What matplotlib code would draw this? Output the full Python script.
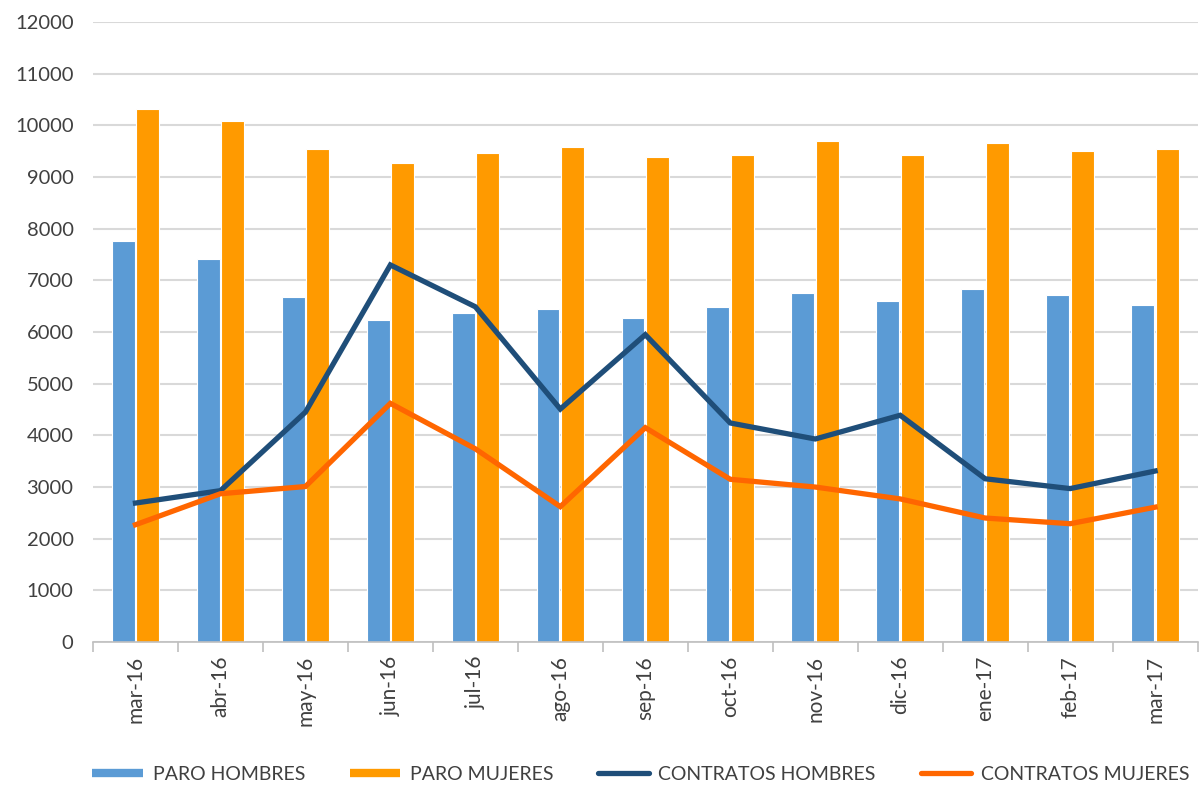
import matplotlib.pyplot as plt
from matplotlib.lines import Line2D
import numpy as np

meses = ["mar-16", "abr-16", "may-16", "jun-16", "jul-16", "ago-16", "sep-16",
         "oct-16", "nov-16", "dic-16", "ene-17", "feb-17", "mar-17"]
paro_hombres = [7760, 7420, 6680, 6240, 6360, 6440, 6280, 6490, 6750, 6600, 6840, 6710, 6520]
paro_mujeres = [10320, 10090, 9540, 9270, 9470, 9580, 9390, 9430, 9695, 9430, 9660, 9510, 9540]
contratos_hombres = [2690, 2930, 4450, 7300, 6490, 4510, 5950, 4240, 3930, 4390, 3160, 2970, 3310]
contratos_mujeres = [2270, 2870, 3010, 4620, 3740, 2620, 4150, 3150, 3000, 2770, 2400, 2290, 2610]

c_ph = "#5B9BD5"
c_pm = "#FF9A00"
c_ch = "#1F4E79"
c_cm = "#FF6600"
txt = "#404040"

plt.rcParams['font.family'] = ['Lato', 'DejaVu Sans']

def main():
    fig = plt.figure(figsize=(12, 7.92), dpi=100)
    ax = fig.add_axes([0.0775, 0.1894, 0.9205, 0.7826])

    x = np.arange(len(meses))
    w = 0.27
    ax.bar(x - 0.145, paro_hombres, w, color=c_ph, edgecolor="white", linewidth=0.8, zorder=2)
    ax.bar(x + 0.145, paro_mujeres, w, color=c_pm, edgecolor="white", linewidth=0.8, zorder=2)
    ax.plot(x, contratos_hombres, color=c_ch, lw=3.8, solid_joinstyle="miter", zorder=3)
    ax.plot(x, contratos_mujeres, color=c_cm, lw=3.8, solid_joinstyle="miter", zorder=3)

    ax.set_xlim(-0.5, len(meses) - 0.5)
    ax.set_ylim(0, 12000)
    ax.set_yticks(np.arange(0, 12001, 1000))
    ax.yaxis.grid(True, color="#D9D9D9", lw=1.5, zorder=0)
    ax.set_axisbelow(True)
    ax.tick_params(axis="y", length=0, pad=14, labelsize=14.5, labelcolor=txt)

    ax.set_xticks(x)
    ax.set_xticklabels(meses, rotation=90, fontsize=15, color=txt)
    ax.tick_params(axis="x", which="major", length=0, pad=10)
    ax.set_xticks(np.arange(-0.5, len(meses), 1), minor=True)
    ax.tick_params(axis="x", which="minor", length=7, width=1.2, color="#BFBFBF")

    for s in ["left", "right", "top"]:
        ax.spines[s].set_visible(False)
    ax.spines["bottom"].set_color("#BFBFBF")
    ax.spines["bottom"].set_linewidth(1.2)

    handles = [
        Line2D([], [], color=c_ph, lw=6, solid_capstyle="butt"),
        Line2D([], [], color=c_pm, lw=6, solid_capstyle="butt"),
        Line2D([], [], color=c_ch, lw=3.8, solid_capstyle="round"),
        Line2D([], [], color=c_cm, lw=3.8, solid_capstyle="round"),
    ]
    labels = ["PARO HOMBRES", "PARO MUJERES", "CONTRATOS HOMBRES", "CONTRATOS MUJERES"]
    fig.legend(handles, labels, loc="center", bbox_to_anchor=(0.534, 0.022), ncol=4,
               frameon=False, fontsize=14, labelcolor=txt, handlelength=2.6,
               handletextpad=0.5, columnspacing=2.3)

    fig.savefig("out.png", dpi=100)

if __name__ == "__main__":
    main()
